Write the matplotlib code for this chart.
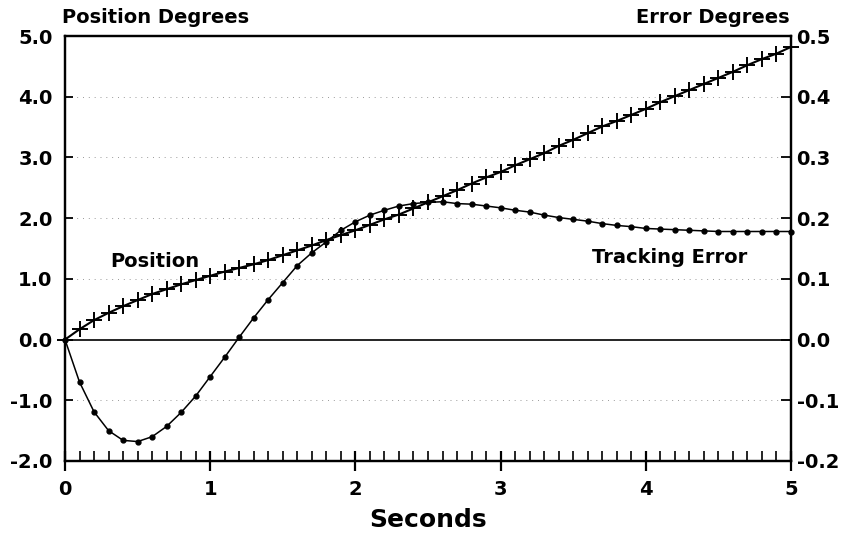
import matplotlib
matplotlib.use("Agg")
import matplotlib.pyplot as plt
import numpy as np

# ---- data ----
seconds = [round(0.1 * i, 1) for i in range(51)]
position_deg = [0.00, 0.17, 0.32, 0.44, 0.55, 0.65, 0.75, 0.83, 0.91, 0.98,
                1.05, 1.12, 1.18, 1.24, 1.31, 1.39, 1.47, 1.55, 1.64, 1.72,
                1.80, 1.89, 1.98, 2.06, 2.16, 2.26, 2.36, 2.46, 2.57, 2.67,
                2.76, 2.87, 2.97, 3.07, 3.19, 3.29, 3.40, 3.51, 3.60, 3.70,
                3.80, 3.91, 4.01, 4.11, 4.21, 4.31, 4.41, 4.52, 4.62, 4.71,
                4.82]
error_deg = [0.000, -0.070, -0.119, -0.150, -0.166, -0.168, -0.160, -0.143, -0.120, -0.093,
             -0.061, -0.029, 0.004, 0.036, 0.066, 0.094, 0.122, 0.143, 0.161, 0.180,
             0.194, 0.205, 0.213, 0.220, 0.224, 0.226, 0.227, 0.224, 0.223, 0.220,
             0.217, 0.213, 0.210, 0.205, 0.201, 0.198, 0.195, 0.191, 0.188, 0.186,
             0.183, 0.182, 0.181, 0.180, 0.179, 0.178, 0.178, 0.178, 0.178, 0.178,
             0.178]
left_ticks = [5.0, 4.0, 3.0, 2.0, 1.0, 0.0, -1.0, -2.0]
left_labels = ["5.0", "4.0", "3.0", "2.0", "1.0", "0.0", "-1.0", "-2.0"]
right_ticks = [0.5, 0.4, 0.3, 0.2, 0.1, 0.0, -0.1, -0.2]
right_labels = ["0.5", "0.4", "0.3", "0.2", "0.1", "0.0", "-0.1", "-0.2"]
x_ticks = [0, 1, 2, 3, 4, 5]
x_labels = ["0", "1", "2", "3", "4", "5"]
grid_levels = [4.0, 3.0, 2.0, 1.0, -1.0]

plt.rcParams['font.family'] = ['DejaVu Sans']

fig = plt.figure(figsize=(8.54, 5.44), dpi=100)
ax = fig.add_axes([65/854, 1-461/544, (791-65)/854, (461-36)/544])
ax2 = ax.twinx()

ax.set_xlim(0, 5)
ax.set_ylim(-2.0, 5.0)
ax2.set_ylim(-0.2, 0.5)

# faint dotted grid
for g in grid_levels:
    ax.axhline(g, color='#9a9a9a', lw=0.7, ls=(0, (1, 5)), zorder=0)
ax.axhline(0.0, color='black', lw=1.2, zorder=1)

ax.plot(seconds, position_deg, color='black', lw=1.5, marker='+',
        markersize=11, markeredgewidth=1.4, zorder=3, clip_on=False)
ax2.plot(seconds, error_deg, color='black', lw=1.1, marker='o',
         markersize=3.5, zorder=3, clip_on=False)

for a in (ax, ax2):
    for s in a.spines.values():
        s.set_linewidth(1.6)

ax.set_yticks(left_ticks)
ax.set_yticklabels(left_labels, fontsize=14, fontweight='bold')
ax2.set_yticks(right_ticks)
ax2.set_yticklabels(right_labels, fontsize=14, fontweight='bold')
ax.set_xticks(x_ticks)
ax.set_xticklabels(x_labels, fontsize=14, fontweight='bold')
ax.set_xticks(seconds, minor=True)

ax.tick_params(axis='y', direction='in', length=6, width=1.3, pad=9)
ax2.tick_params(axis='y', direction='in', length=7, width=1.3, pad=4)
ax.tick_params(axis='x', which='major', direction='inout', length=14, width=1.6, pad=7)
ax.tick_params(axis='x', which='minor', direction='in', length=7, width=1.2)

ax.set_xlabel("Seconds", fontsize=18, fontweight='bold', labelpad=6)

fig.text(62/854, 1-23/544, "Position Degrees", fontsize=14, fontweight='bold',
         ha='left', va='baseline')
fig.text(790/854, 1-23/544, "Error Degrees", fontsize=14, fontweight='bold',
         ha='right', va='baseline')
ax.text(0.31, 1.19, "Position", fontsize=14, fontweight='bold', ha='left', va='baseline')
ax.text(3.63, 1.26, "Tracking Error", fontsize=14, fontweight='bold', ha='left', va='baseline')

fig.savefig("out.png", dpi=100)
